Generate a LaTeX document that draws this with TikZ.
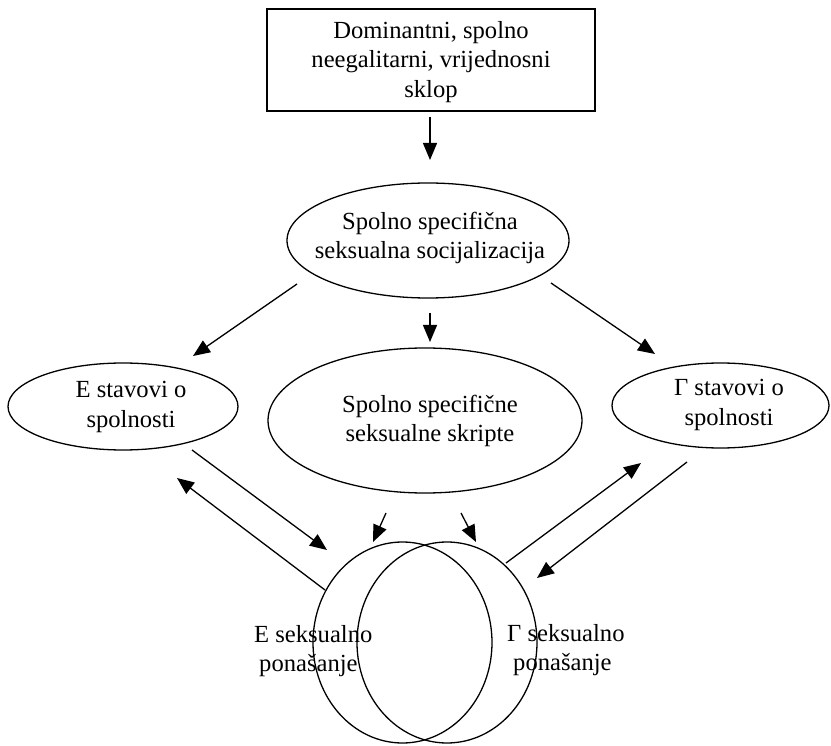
\documentclass[tikz,border=0pt]{standalone}
\usepackage{fontspec}
\setmainfont{Liberation Serif}
\usetikzlibrary{shapes.geometric,arrows.meta}
\tikzset{
  shp/.style={draw, line width=1.3pt, inner sep=0pt},
  ell/.style={shp, ellipse},
  txt/.style={font=\fontsize{24.6}{29.5}\selectfont, align=center, inner sep=0pt},
  ltxt/.style={font=\fontsize{24.6}{29.5}\selectfont, align=left, inner sep=0pt, anchor=west},
  arr/.style={line width=1.3pt, -{Triangle[length=17pt,width=14pt]}},
}
\begin{document}
\begin{tikzpicture}[x=1pt,y=-1pt]
\useasboundingbox (0,0) rectangle (831,746);
% top box
\node[shp, rectangle, minimum width=328pt, minimum height=102pt] (box) at (431,60) {};
\node[txt] (boxt) at (431,62) {Dominantni, spolno\\neegalitarni, vrijednosni\\sklop};
% socialisation ellipse
\node[ell, minimum width=282pt, minimum height=115pt] (soc) at (428,240.5) {};
\node[txt] (soct) at (430,238) {Spolno specifična\\seksualna socijalizacija};
% E attitudes
\node[ell, minimum width=230pt, minimum height=87pt] (est) at (123,406.5) {};
\node[txt] (estt) at (131,407) {E stavovi o\\spolnosti};
% scripts
\node[ell, minimum width=314pt, minimum height=145pt] (skr) at (425,420.5) {};
\node[txt] (skrt) at (430,421) {Spolno specifične\\seksualne skripte};
% G attitudes
\node[ell, minimum width=217pt, minimum height=85pt] (gst) at (720.5,405.5) {};
\node[txt] (gstt) at (729,405) {Γ stavovi o\\spolnosti};
% behaviour circles
\node[ell, minimum width=179pt, minimum height=201pt] (ecir) at (402.5,642.5) {};
\node[ell, minimum width=180pt, minimum height=201pt] (gcir) at (447,642.5) {};
\node[ltxt] (ebt) at (254,651) {E seksualno\\\hspace*{5pt}ponašanje};
\node[ltxt] (gbt) at (507,650) {Γ seksualno\\\hspace*{6pt}ponašanje};
% arrow end points
\coordinate (a1s) at (430,117); \coordinate (a1e) at (430,160);
\coordinate (a2s) at (297,284); \coordinate (a2e) at (193,356);
\coordinate (a3s) at (430,313); \coordinate (a3e) at (430,342);
\coordinate (a4s) at (551,283); \coordinate (a4e) at (655,354);
\coordinate (a5s) at (192,450); \coordinate (a5e) at (327,550);
\coordinate (a6s) at (325,590); \coordinate (a6e) at (177,478);
\coordinate (a7s) at (386,513); \coordinate (a7e) at (373,542);
\coordinate (a8s) at (461,513); \coordinate (a8e) at (476,542);
\coordinate (a9s) at (506,563); \coordinate (a9e) at (641,463);
\coordinate (a10s) at (687,462); \coordinate (a10e) at (537,578);
\draw[arr] (a1s) -- (a1e);
\draw[arr] (a2s) -- (a2e);
\draw[arr] (a3s) -- (a3e);
\draw[arr] (a4s) -- (a4e);
\draw[arr] (a5s) -- (a5e);
\draw[arr] (a6s) -- (a6e);
\draw[arr] (a7s) -- (a7e);
\draw[arr] (a8s) -- (a8e);
\draw[arr] (a9s) -- (a9e);
\draw[arr] (a10s) -- (a10e);
\end{tikzpicture}
\end{document}
